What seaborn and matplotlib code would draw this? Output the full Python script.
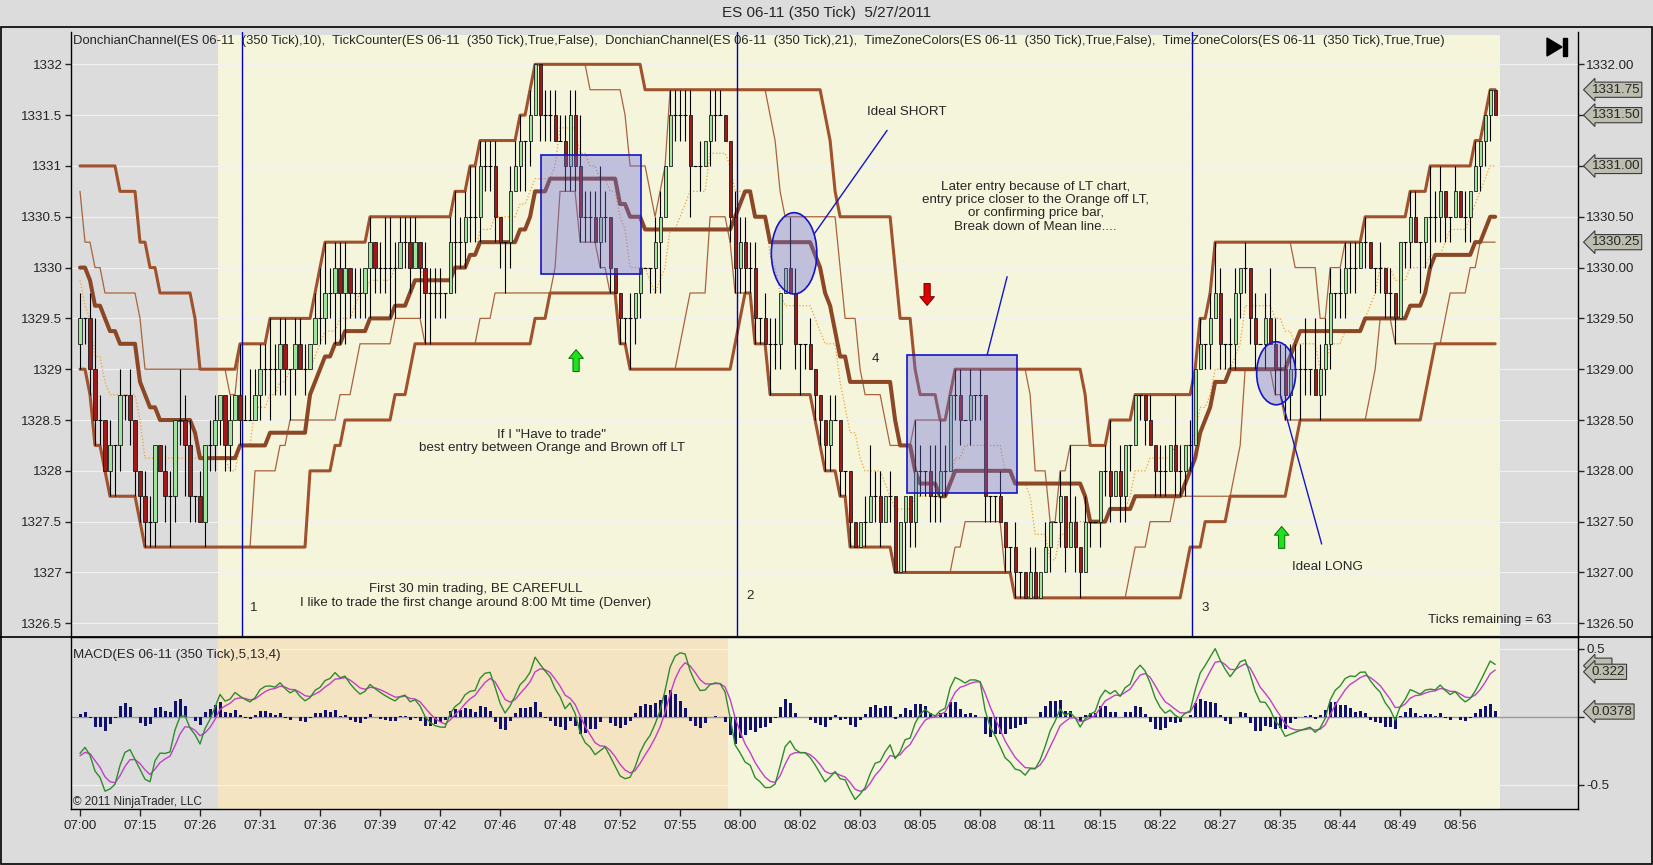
import numpy as np
import pandas as pd
import seaborn as sns
import matplotlib.pyplot as plt
from matplotlib.patches import Rectangle, Ellipse, Polygon
from matplotlib.lines import Line2D

# bars before the first visible one (they only feed the indicators)
PRE_Q = [14, 15, 16, 15, 16, 17, 17, 17, 16, 17, 16, 15, 14, 14, 13, 12, 12, 11, 12, 11]
PRE_UP = "10000001000101011011"
PRE_DN = "11011011111101111111"

# visible 350 tick bars: close in quarter points above 1326.50
CLOSE_Q = [
    12, 12, 10, 8, 8, 6, 7, 7, 9, 9,
    8, 6, 5, 4, 4, 7, 6, 5, 5, 8,
    8, 7, 5, 5, 4, 7, 7, 8, 9, 7,
    8, 9, 8, 8, 8, 9, 10, 10, 10, 10,
    11, 10, 10, 11, 10, 10, 11, 12, 12, 13,
    13, 14, 13, 14, 13, 13, 13, 14, 15, 14,
    14, 14, 14, 14, 15, 15, 14, 15, 14, 13,
    13, 13, 13, 13, 15, 15, 15, 16, 16, 16,
    18, 18, 18, 16, 15, 15, 17, 18, 19, 19,
    20, 22, 20, 20, 20, 19, 19, 18, 20, 18,
    16, 16, 16, 15, 16, 16, 14, 13, 12, 12,
    12, 13, 14, 14, 14, 15, 16, 18, 20, 20,
    20, 20, 18, 18, 18, 19, 20, 20, 20, 19,
    16, 14, 15, 14, 14, 12, 12, 11, 11, 11,
    13, 14, 13, 11, 11, 11, 10, 9, 8, 7,
    8, 8, 6, 6, 4, 3, 4, 4, 5, 5,
    4, 5, 5, 2, 4, 5, 4, 6, 6, 6,
    5, 5, 6, 6, 9, 9, 8, 8, 9, 9,
    9, 5, 5, 5, 4, 3, 3, 2, 2, 1,
    2, 1, 2, 3, 4, 4, 5, 3, 4, 3,
    2, 4, 4, 4, 6, 6, 5, 6, 5, 7,
    7, 9, 9, 8, 7, 6, 6, 6, 7, 6,
    6, 7, 7, 10, 11, 11, 12, 13, 11, 11,
    11, 13, 14, 14, 12, 11, 11, 12, 11, 10,
    10, 9, 10, 10, 10, 10, 10, 9, 10, 11,
    13, 13, 13, 14, 14, 14, 15, 15, 14, 14,
    14, 13, 13, 12, 15, 15, 16, 15, 15, 16,
    16, 16, 17, 16, 16, 17, 16, 16, 17, 18,
    19, 20, 21, 20,
]
# wick length above / below the body, in ticks
WICK_UP = ("1012101010" "1001100110" "2110101100" "1021211121" "1101110122"
           "1111011010" "1221111101" "1110121122" "1111001110" "1001111111"
           "2111210000" "1000011011" "1110101110" "0111110111" "0021001000"
           "1100000121" "1010000210" "1221011010" "1000100100" "1101001031"
           "0100012010" "0000101102" "1010101210" "1101010121" "1111120211"
           "1011110100" "1010001100" "2110010101" "0000")
WICK_DN = ("1111101211" "1111110121" "1211011111" "1010001121" "1121010011"
           "1222111121" "1122011022" "2111021111" "1111121012" "1011100111"
           "1110111011" "2110112001" "1120101100" "1111111021" "1001210111"
           "1011100101" "1010021111" "1111011011" "1111011110" "0000101101"
           "1010111011" "1011011101" "1110011011" "1111110101" "1110211011"
           "1111110101" "1111011021" "2111100110" "1110")

TIME_LABELS = ["07:00", "07:15", "07:26", "07:31", "07:36", "07:39", "07:42", "07:46",
               "07:48", "07:52", "07:55", "08:00", "08:02", "08:03", "08:05", "08:08",
               "08:11", "08:15", "08:22", "08:27", "08:35", "08:44", "08:49", "08:56"]
PRICE_BOXES = [1331.75, 1331.50, 1331.00, 1330.25]
MACD_BOXES = [(0.375, "     "), (0.33, "0.322"), (0.0378, "0.0378")]
SESSION_MARKS = [32.3, 131.3, 222.3]

BG = '#dcdcdc'
CREAM = '#f5f5dc'
WHEAT = '#f5e4c2'
SIENNA = '#a0522d'
BLUE = '#1414c8'
FILL = (0.42, 0.42, 0.86, 0.38)

sns.set_style("white")
plt.rcParams['font.family'] = ['Liberation Sans', 'DejaVu Sans']
plt.rcParams['font.size'] = 9.6

# ---------------- data + indicators ----------------
q = np.array(PRE_Q + CLOSE_Q)
up = np.array([int(c) for c in PRE_UP + WICK_UP])
dn = np.array([int(c) for c in PRE_DN + WICK_DN])
close = 1326.5 + 0.25 * q
opn = np.r_[close[0], close[:-1]]
bars = pd.DataFrame({'bar': np.arange(len(q)) - len(PRE_Q), 'open': opn, 'close': close,
                     'high': np.maximum(opn, close) + 0.25 * up,
                     'low': np.minimum(opn, close) - 0.25 * dn})

for n in (10, 21):
    bars['up%d' % n] = bars['high'].rolling(n, min_periods=1).max()
    bars['lo%d' % n] = bars['low'].rolling(n, min_periods=1).min()
    bars['mid%d' % n] = (bars['up%d' % n] + bars['lo%d' % n]) / 2

fast = bars['close'].ewm(span=5, adjust=False).mean()
slow = bars['close'].ewm(span=13, adjust=False).mean()
bars['macd'] = fast - slow
bars['avg'] = bars['macd'].ewm(span=4, adjust=False).mean()
bars['diff'] = bars['macd'] - bars['avg']

vis = bars[bars['bar'] >= 0]
x = vis['bar'].to_numpy()

# ---------------- figure layout (pixels of a 1653x865 picture) ----------------
W, H = 1653, 865
def fx(px): return px / W
def fy(py): return 1 - py / H

fig = plt.figure(figsize=(W / 100, H / 100), dpi=100, facecolor=BG)
ax = fig.add_axes([fx(70.7), fy(637), fx(1577.7) - fx(70.7), fy(32) - fy(637)], facecolor=BG)
ax2 = fig.add_axes([fx(70.7), fy(809.3), fx(1577.7) - fx(70.7), fy(637) - fy(809.3)],
                   facecolor=BG, sharex=ax)

fig.add_artist(Rectangle((fx(0.5), fy(864)), fx(1652) - fx(0.5), fy(27) - fy(864),
                         transform=fig.transFigure, fill=False, ec='black', lw=1.2))
fig.add_artist(Line2D([0, 1], [fy(637), fy(637)], color='black', lw=1.2))
fig.text(0.5, fy(13), "ES 06-11 (350 Tick)  5/27/2011", ha='center', va='center', fontsize=11)

# ---------------- price panel ----------------
ax.axvspan(27.6, 283.9, ymin=0.003, ymax=0.995, color=CREAM, lw=0, zorder=0)
for p in np.arange(1326.5, 1332.01, 0.5):
    ax.axhline(p, color='#f2f2f2', lw=0.8, zorder=0.5)

sns.lineplot(x=x, y=vis['up10'].to_numpy(), ax=ax, color='#a8643c', lw=0.9, zorder=2)
sns.lineplot(x=x, y=vis['lo10'].to_numpy(), ax=ax, color='#a8643c', lw=0.9, zorder=2)
sns.lineplot(x=x, y=vis['mid10'].to_numpy(), ax=ax, color='#f0a030', lw=0.9,
             linestyle=':', zorder=2)
sns.lineplot(x=x, y=vis['up21'].to_numpy(), ax=ax, color=SIENNA, lw=2.2, zorder=2)
sns.lineplot(x=x, y=vis['lo21'].to_numpy(), ax=ax, color=SIENNA, lw=2.2, zorder=2)
sns.lineplot(x=x, y=vis['mid21'].to_numpy(), ax=ax, color='#8b4726', lw=2.9, zorder=2)

for xv in SESSION_MARKS:
    ax.axvline(xv, color='#0000c0', lw=1, zorder=2.5)

# candles
ups = vis[vis['close'] > vis['open']]
downs = vis[vis['close'] < vis['open']]
flat = vis[vis['close'] == vis['open']]
ax.vlines(x, vis['low'], vis['high'], color='black', lw=0.8, zorder=3)
ax.bar(ups['bar'], ups['close'] - ups['open'], bottom=ups['open'], width=0.62,
       color='#9fe39f', edgecolor='#1a1a1a', lw=0.6, zorder=4)
ax.bar(downs['bar'], downs['open'] - downs['close'], bottom=downs['close'], width=0.62,
       color='#a01818', edgecolor='#1a1a1a', lw=0.6, zorder=4)
ax.hlines(flat['close'], flat['bar'] - 0.35, flat['bar'] + 0.35, color='black', lw=0.8, zorder=4)

# drawings
ax.add_patch(Rectangle((92.2, 1329.94), 20.0, 1.17, fc=FILL, ec=BLUE, lw=1.2, zorder=5))
ax.add_patch(Rectangle((165.4, 1327.78), 21.9, 1.36, fc=FILL, ec=BLUE, lw=1.2, zorder=5))
ax.add_patch(Ellipse((142.8, 1330.14), 9.1, 0.8, fc=FILL, ec=BLUE, lw=1.2, zorder=5))
ax.add_patch(Ellipse((239.2, 1328.96), 7.8, 0.62, fc=FILL, ec=BLUE, lw=1.2, zorder=5))
ax.plot([146.8, 161.4], [1330.33, 1331.35], color=BLUE, lw=1, zorder=5)
ax.plot([181.4, 185.4], [1329.14, 1329.91], color=BLUE, lw=1, zorder=5)
ax.plot([240.1, 248.3], [1328.74, 1327.28], color=BLUE, lw=1, zorder=5)

arrow_up = dict(arrowstyle='simple,head_length=0.45,head_width=0.75,tail_width=0.32',
                fc='#20e020', ec='#007000', lw=0.7, mutation_scale=14)
arrow_dn = dict(arrowstyle='simple,head_length=0.45,head_width=0.75,tail_width=0.32',
                fc='#e00000', ec='#700000', lw=0.7, mutation_scale=14)
ax.annotate('', xy=(99.2, 1329.22), xytext=(99.2, 1328.95), arrowprops=arrow_up, zorder=6)
ax.annotate('', xy=(240.3, 1327.48), xytext=(240.3, 1327.21), arrowprops=arrow_up, zorder=6)
ax.annotate('', xy=(169.4, 1329.6), xytext=(169.4, 1329.87), arrowprops=arrow_dn, zorder=6)

ax.text(0.0015, 0.985, "DonchianChannel(ES 06-11  (350 Tick),10),  TickCounter(ES 06-11  (350 Tick),True,False),"
        "  DonchianChannel(ES 06-11  (350 Tick),21),  TimeZoneColors(ES 06-11  (350 Tick),True,False),"
        "  TimeZoneColors(ES 06-11  (350 Tick),True,True)", transform=ax.transAxes, va='center', ha='left',
        fontsize=9.4)
for xv, yv, s in [(34.8, 1326.65, "1"), (134.0, 1326.77, "2"), (225.0, 1326.65, "3"), (159.0, 1329.1, "4")]:
    ax.text(xv, yv, s, ha='center', va='center')
ax.text(165.4, 1331.53, "Ideal SHORT", ha='center', va='center')
ax.text(249.4, 1327.05, "Ideal LONG", ha='center', va='center')
ax.text(94.3, 1328.29, 'If I "Have to trade"\nbest entry between Orange and Brown off LT',
        ha='center', va='center', linespacing=1.15)
ax.text(79.1, 1326.77, "First 30 min trading, BE CAREFULL\n"
        "I like to trade the first change around 8:00 Mt time (Denver)",
        ha='center', va='center', linespacing=1.15)
ax.text(191.1, 1330.6, "Later entry because of LT chart,\nentry price closer to the Orange off LT,\n"
        "or confirming price bar,\nBreak down of Mean line....", ha='center', va='center', linespacing=1.15)
ax.text(294.3, 1326.53, "Ticks remaining = 63", ha='right', va='center')

ax.set_xlim(-1.86, 299.5)
ax.set_ylim(1326.365, 1332.318)
ticks = np.arange(1326.5, 1332.01, 0.5)
ax.set_yticks(ticks)
ax.set_yticklabels(['%g' % t for t in ticks])
ax.tick_params(axis='y', left=True, direction='out', length=4, width=1, pad=2)
ax.tick_params(axis='x', bottom=False, labelbottom=False)
ax.set_xlabel('')
ax.set_ylabel('')
ax.spines['top'].set_visible(False)
for s in ('left', 'right', 'bottom'):
    ax.spines[s].set_color('black')
    ax.spines[s].set_linewidth(1)

# right price scale; labels sitting under a value box are left blank
axr = ax.twinx()
axr.set_ylim(ax.get_ylim())
axr.set_yticks(ticks)
axr.set_yticklabels(['' if t in PRICE_BOXES else '%.2f' % t for t in ticks])
axr.tick_params(axis='y', right=True, direction='out', length=4, width=1, pad=2)
for s in axr.spines.values():
    s.set_visible(False)
for p in PRICE_BOXES:
    axr.annotate('%.2f' % p, xy=(1, p), xycoords=axr.get_yaxis_transform(), xytext=(10, 0),
                 textcoords='offset points', ha='left', va='center', annotation_clip=False,
                 bbox=dict(boxstyle='larrow,pad=0.12', fc='#bdbdb0', ec='#3c3c3c', lw=0.8))

# skip-to-end icon
fig.add_artist(Polygon([(fx(1547), fy(38)), (fx(1547), fy(56)), (fx(1562), fy(47))],
                       closed=True, transform=fig.transFigure, fc='black', ec='black'))
fig.add_artist(Rectangle((fx(1563), fy(56)), fx(4), fy(38) - fy(56), transform=fig.transFigure,
                         fc='black', ec='black'))

# ---------------- MACD panel ----------------
ax2.axvspan(27.6, 129.5, color=WHEAT, lw=0, zorder=0)
ax2.axvspan(129.5, 283.9, color=CREAM, lw=0, zorder=0)
for v in (-0.5, 0.5):
    ax2.axhline(v, color='#f2f2f2', lw=0.8, zorder=0.5)
ax2.axhline(0, color='#9a9a9a', lw=1, zorder=1)
ax2.bar(x, vis['diff'], width=0.6, color='#10106e', lw=0, zorder=2)
sns.lineplot(x=x, y=vis['avg'].to_numpy(), ax=ax2, color='#c040c8', lw=1, zorder=3)
sns.lineplot(x=x, y=vis['macd'].to_numpy(), ax=ax2, color='#2e8b2e', lw=1, zorder=3)

ax2.text(0.0015, 0.895, "MACD(ES 06-11 (350 Tick),5,13,4)", transform=ax2.transAxes, va='center')
ax2.text(0.0015, 0.04, "\u00a9 2011 NinjaTrader, LLC", transform=ax2.transAxes, va='center', fontsize=8.5)

ax2.set_ylim(-0.681, 0.586)
ax2.yaxis.tick_right()
ax2.set_yticks([-0.5, 0, 0.5])
ax2.set_yticklabels(['-0.5', '', '0.5'])
ax2.tick_params(axis='y', right=True, left=False, direction='out', length=4, width=1, pad=2)
ax2.set_xticks(np.arange(0, 12 * len(TIME_LABELS), 12))
ax2.set_xticklabels(TIME_LABELS)
ax2.tick_params(axis='x', bottom=True, direction='out', length=5, width=1, pad=3)
ax2.set_xlabel('')
ax2.set_ylabel('')
for s in ax2.spines.values():
    s.set_color('black')
    s.set_linewidth(1)
for v, s in MACD_BOXES:
    ax2.annotate(s, xy=(1, v), xycoords=ax2.get_yaxis_transform(), xytext=(10, 0),
                 textcoords='offset points', ha='left', va='center', annotation_clip=False,
                 bbox=dict(boxstyle='larrow,pad=0.12', fc='#bdbdb0', ec='#3c3c3c', lw=0.8))

fig.savefig("out.png", dpi=100, facecolor=BG)
